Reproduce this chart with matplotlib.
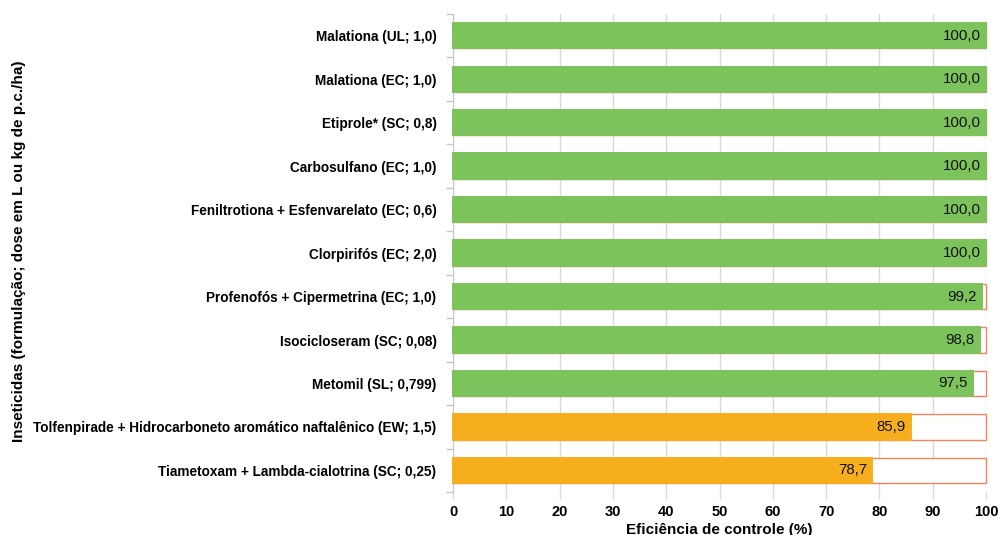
import matplotlib
matplotlib.use("Agg")
import matplotlib.pyplot as plt
import numpy as np

plt.rcParams["font.family"] = ["Liberation Sans", "DejaVu Sans"]

# dados (de cima para baixo)
INSETICIDAS = [
    "Malationa (UL; 1,0)",
    "Malationa (EC; 1,0)",
    "Etiprole* (SC; 0,8)",
    "Carbosulfano (EC; 1,0)",
    "Feniltrotiona + Esfenvarelato (EC; 0,6)",
    "Clorpirifós (EC; 2,0)",
    "Profenofós + Cipermetrina (EC; 1,0)",
    "Isocicloseram (SC; 0,08)",
    "Metomil (SL; 0,799)",
    "Tolfenpirade + Hidrocarboneto aromático naftalênico (EW; 1,5)",
    "Tiametoxam + Lambda-cialotrina (SC; 0,25)",
]
EFICIENCIA = [100.0, 100.0, 100.0, 100.0, 100.0, 100.0, 99.2, 98.8, 97.5, 85.9, 78.7]
GRUPO = ["alta"] * 9 + ["media"] * 2

COR_GRUPO = {"alta": "#7DC35B", "media": "#F7AE1C"}
COR_BORDA = "#F2845C"

fig = plt.figure(figsize=(9.99, 5.35), dpi=100)
ax = fig.add_axes([0.4535, 0.080, 0.5335, 0.894])

n = len(INSETICIDAS)
y = np.arange(n)[::-1]
h = 0.58

# caixa de fundo ate 100%
fundo = ax.barh(y, [100] * n, height=h, color="white", edgecolor=COR_BORDA,
                linewidth=1.0, zorder=2)
cores = [COR_GRUPO[g] for g in GRUPO]
barras = ax.barh(y, EFICIENCIA, height=h, color=cores, edgecolor=cores,
                 linewidth=1.4, zorder=3)
for b in list(fundo) + list(barras):
    b.set_clip_on(False)

for yi, v in zip(y, EFICIENCIA):
    ax.text(v - 1.0, yi, f"{v:.1f}".replace(".", ","), ha="right", va="center",
            fontsize=10.8, color="#111111", zorder=4)

ax.set_xlim(0, 100)
ax.set_ylim(-0.5, n - 0.5)
ax.set_xticks(np.arange(0, 101, 10))
ax.set_xticklabels([str(t) for t in range(0, 101, 10)], fontsize=10.5, fontweight="bold")
ax.set_yticks(y)
ax.set_yticklabels(INSETICIDAS, fontsize=9.8, fontweight="bold")
ax.set_yticks(np.arange(-0.5, n, 1.0), minor=True)
ax.tick_params(axis="y", which="major", length=0, pad=12)
ax.tick_params(axis="y", which="minor", length=5, color="#C8C8C8", width=1)
ax.tick_params(axis="x", length=5, color="#D9D9D9", width=1, pad=4)

ax.grid(axis="x", color="#D9D9D9", linewidth=1, zorder=0)
ax.set_axisbelow(True)
for s in ["top", "right", "bottom"]:
    ax.spines[s].set_visible(False)
ax.spines["left"].set_color("#C8C8C8")

ax.set_xlabel("Eficiência de controle (%)", fontsize=11, fontweight="bold", labelpad=3)
fig.text(0.019, 0.53, "Inseticidas (formulação; dose em L ou kg de p.c./ha)",
         rotation=90, ha="center", va="center", fontsize=11, fontweight="bold")

fig.savefig("out.png", dpi=100)
